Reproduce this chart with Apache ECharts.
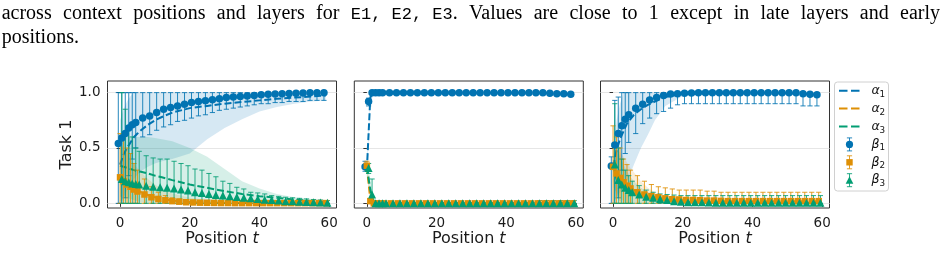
<!DOCTYPE html>
<html>
<head>
<meta charset="utf-8">
<script src="https://cdn.jsdelivr.net/npm/echarts@6/dist/echarts.min.js"></script>
<style>
  html, body { margin: 0; padding: 0; background: #fff; }
  #main { width: 948px; height: 278px; }
</style>
</head>
<body>
<div id="main"></div>
<script>
// context positions
const alphaPos = [0, 1, 2, 3, 4, 5, 6, 8, 10, 12, 15, 20, 25, 30, 35, 40, 45, 50, 55, 59];
const betaPos = [0, 1, 2, 3, 4, 5, 7, 9, 11, 13, 15, 17, 19, 21, 23, 25, 27, 29, 31, 33, 35, 37, 39, 41, 43, 45, 47, 49, 51, 53, 55, 57, 59];
const xTicks = [0, 20, 40, 60];
const yTicks = [0, 0.5, 1.0];

// ---- E1 ----
const e1A1 = [0.35, 0.44, 0.5, 0.55, 0.6, 0.63, 0.66, 0.71, 0.75, 0.78, 0.82, 0.86, 0.88, 0.9, 0.915, 0.93, 0.945, 0.955, 0.965, 0.975];
const e1A1Lo = [0, 0.05, 0.12, 0.18, 0.22, 0.26, 0.29, 0.33, 0.36, 0.38, 0.4, 0.45, 0.58, 0.68, 0.76, 0.83, 0.87, 0.9, 0.92, 0.93];
const e1A1Hi = [0.75, 0.85, 0.92, 0.97, 1, 1, 1, 1, 1, 1, 1, 1, 1, 1, 1, 1, 1, 1, 1, 1];
const e1A2 = [0.24, 0.21, 0.18, 0.16, 0.14, 0.12, 0.1, 0.075, 0.055, 0.04, 0.025, 0.012, 0.006, 0.004, 0.003, 0.002, 0.002, 0.002, 0.002, 0.002];
const e1A2Lo = [0.02, 0.02, 0.01, 0.01, 0, 0, 0, 0, 0, 0, 0, 0, 0, 0, 0, 0, 0, 0, 0, 0];
const e1A2Hi = [0.55, 0.5, 0.45, 0.4, 0.36, 0.32, 0.28, 0.22, 0.17, 0.13, 0.09, 0.05, 0.03, 0.02, 0.015, 0.01, 0.01, 0.01, 0.01, 0.01];
const e1A3 = [0.34, 0.33, 0.32, 0.31, 0.3, 0.29, 0.285, 0.27, 0.25, 0.235, 0.21, 0.17, 0.14, 0.11, 0.085, 0.065, 0.05, 0.035, 0.02, 0.01];
const e1A3Lo = [0.06, 0.06, 0.05, 0.04, 0.03, 0.02, 0.01, 0, 0, 0, 0, 0, 0, 0, 0, 0, 0, 0, 0, 0];
const e1A3Hi = [0.62, 0.6, 0.6, 0.6, 0.6, 0.6, 0.6, 0.6, 0.59, 0.58, 0.56, 0.5, 0.42, 0.31, 0.2, 0.135, 0.085, 0.055, 0.04, 0.03];

const e1B1 = [0.54, 0.59, 0.63, 0.68, 0.71, 0.73, 0.77, 0.79, 0.82, 0.85, 0.865, 0.88, 0.895, 0.91, 0.92, 0.927, 0.935, 0.945, 0.955, 0.96, 0.965, 0.97, 0.975, 0.98, 0.985, 0.988, 0.99, 0.993, 0.995, 0.997, 0.998, 0.998, 0.998];
const e1B1Lo = [0, 0, 0.05, 0.25, 0.4, 0.5, 0.6, 0.62, 0.66, 0.69, 0.71, 0.74, 0.75, 0.77, 0.79, 0.8, 0.82, 0.84, 0.85, 0.86, 0.87, 0.88, 0.89, 0.9, 0.9, 0.91, 0.91, 0.92, 0.92, 0.92, 0.93, 0.93, 0.93];
const e1B1Hi = [1, 1, 1, 1, 1, 1, 1, 1, 1, 1, 1, 1, 1, 1, 1, 1, 1, 1, 1, 1, 1, 1, 1, 1, 1, 1, 1, 1, 1, 1, 1, 1, 1];
const e1B2 = [0.235, 0.2, 0.17, 0.15, 0.125, 0.107, 0.08, 0.055, 0.04, 0.028, 0.02, 0.015, 0.01, 0.008, 0.006, 0.005, 0.004, 0.003, 0.003, 0.002, 0.002, 0.002, 0.002, 0.002, 0.002, 0.002, 0.002, 0.002, 0.002, 0.002, 0.002, 0.002, 0.002];
const e1B2Lo = [0, 0, 0, 0, 0, 0, 0, 0, 0, 0, 0, 0, 0, 0, 0, 0, 0, 0, 0, 0, 0, 0, 0, 0, 0, 0, 0, 0, 0, 0, 0, 0, 0];
const e1B2Hi = [0.63, 0.6, 0.5, 0.45, 0.36, 0.3, 0.22, 0.15, 0.1, 0.07, 0.05, 0.04, 0.03, 0.025, 0.02, 0.02, 0.015, 0.015, 0.015, 0.015, 0.015, 0.015, 0.015, 0.015, 0.015, 0.015, 0.015, 0.015, 0.015, 0.015, 0.015, 0.015, 0.015];
const e1B3 = [0.22, 0.2, 0.19, 0.18, 0.175, 0.17, 0.16, 0.15, 0.145, 0.14, 0.135, 0.125, 0.115, 0.1, 0.094, 0.085, 0.075, 0.07, 0.063, 0.057, 0.05, 0.045, 0.04, 0.033, 0.03, 0.025, 0.02, 0.018, 0.015, 0.012, 0.01, 0.008, 0.006];
const e1B3Lo = [0, 0, 0, 0, 0, 0, 0, 0, 0, 0, 0, 0, 0, 0, 0, 0, 0, 0, 0, 0, 0, 0, 0, 0, 0, 0, 0, 0, 0, 0, 0, 0, 0];
const e1B3Hi = [1.0, 0.85, 0.7, 0.6, 0.5, 0.47, 0.43, 0.41, 0.4, 0.4, 0.38, 0.36, 0.34, 0.31, 0.3, 0.27, 0.24, 0.2, 0.18, 0.145, 0.13, 0.1, 0.094, 0.085, 0.07, 0.063, 0.055, 0.05, 0.045, 0.04, 0.035, 0.03, 0.025];

// ---- E2 ----
const e2A1 = [0.3, 0.96, 1, 1, 1, 1, 1, 1, 1, 1, 1, 1, 1, 1, 1, 1, 1, 1, 0.99, 0.985];
const e2A1Lo = [0.22, 0.9, 0.99, 0.99, 0.99, 0.99, 0.99, 0.99, 0.99, 0.99, 0.99, 0.99, 0.99, 0.99, 0.99, 0.99, 0.99, 0.99, 0.975, 0.97];
const e2A1Hi = [0.38, 1, 1, 1, 1, 1, 1, 1, 1, 1, 1, 1, 1, 1, 1, 1, 1, 1, 1, 1];
const e2A2 = [0.33, 0.03, 0, 0, 0, 0, 0, 0, 0, 0, 0, 0, 0, 0, 0, 0, 0, 0, 0, 0];
const e2A2Lo = [0.27, 0, 0, 0, 0, 0, 0, 0, 0, 0, 0, 0, 0, 0, 0, 0, 0, 0, 0, 0];
const e2A2Hi = [0.4, 0.07, 0.005, 0.005, 0.005, 0.005, 0.005, 0.005, 0.005, 0.005, 0.005, 0.005, 0.005, 0.005, 0.005, 0.005, 0.005, 0.005, 0.005, 0.005];
const e2A3 = [0.33, 0.12, 0.003, 0.003, 0.003, 0.003, 0.003, 0.003, 0.003, 0.003, 0.003, 0.003, 0.003, 0.003, 0.003, 0.003, 0.003, 0.003, 0.003, 0.003];
const e2A3Lo = [0.25, 0.04, 0, 0, 0, 0, 0, 0, 0, 0, 0, 0, 0, 0, 0, 0, 0, 0, 0, 0];
const e2A3Hi = [0.4, 0.22, 0.008, 0.008, 0.008, 0.008, 0.008, 0.008, 0.008, 0.008, 0.008, 0.008, 0.008, 0.008, 0.008, 0.008, 0.008, 0.008, 0.02, 0.025];

const e2B1 = [0.33, 0.92, 1, 1, 1, 1, 1, 1, 1, 1, 1, 1, 1, 1, 1, 1, 1, 1, 1, 1, 1, 1, 1, 1, 1, 1, 1, 1, 0.998, 0.995, 0.99, 0.99, 0.985];
const e2B1Lo = [0.29, 0.88, 0.995, 0.995, 0.995, 0.995, 0.995, 0.995, 0.995, 0.995, 0.995, 0.995, 0.995, 0.995, 0.995, 0.995, 0.995, 0.995, 0.995, 0.995, 0.995, 0.995, 0.995, 0.995, 0.995, 0.995, 0.995, 0.995, 0.99, 0.985, 0.975, 0.975, 0.97];
const e2B1Hi = [0.38, 0.95, 1, 1, 1, 1, 1, 1, 1, 1, 1, 1, 1, 1, 1, 1, 1, 1, 1, 1, 1, 1, 1, 1, 1, 1, 1, 1, 1, 1, 1, 1, 1];
const e2B2 = [0.34, 0.02, 0, 0, 0, 0, 0, 0, 0, 0, 0, 0, 0, 0, 0, 0, 0, 0, 0, 0, 0, 0, 0, 0, 0, 0, 0, 0, 0, 0, 0, 0, 0];
const e2B2Lo = [0.3, 0, 0, 0, 0, 0, 0, 0, 0, 0, 0, 0, 0, 0, 0, 0, 0, 0, 0, 0, 0, 0, 0, 0, 0, 0, 0, 0, 0, 0, 0, 0, 0];
const e2B2Hi = [0.38, 0.04, 0.005, 0.005, 0.005, 0.005, 0.005, 0.005, 0.005, 0.005, 0.005, 0.005, 0.005, 0.005, 0.005, 0.005, 0.005, 0.005, 0.005, 0.005, 0.005, 0.005, 0.005, 0.005, 0.005, 0.005, 0.005, 0.015, 0.015, 0.015, 0.015, 0.015, 0.015];
const e2B3 = [0.32, 0.08, 0.002, 0.002, 0.002, 0.002, 0.002, 0.002, 0.002, 0.002, 0.002, 0.002, 0.002, 0.002, 0.002, 0.002, 0.002, 0.002, 0.002, 0.002, 0.002, 0.002, 0.002, 0.002, 0.002, 0.002, 0.002, 0.002, 0.002, 0.002, 0.002, 0.002, 0.002];
const e2B3Lo = [0.27, 0.03, 0, 0, 0, 0, 0, 0, 0, 0, 0, 0, 0, 0, 0, 0, 0, 0, 0, 0, 0, 0, 0, 0, 0, 0, 0, 0, 0, 0, 0, 0, 0];
const e2B3Hi = [0.36, 0.22, 0.008, 0.008, 0.008, 0.008, 0.008, 0.008, 0.008, 0.008, 0.008, 0.008, 0.008, 0.008, 0.008, 0.008, 0.008, 0.008, 0.008, 0.008, 0.008, 0.008, 0.008, 0.008, 0.008, 0.008, 0.008, 0.025, 0.025, 0.025, 0.025, 0.025, 0.025];

// ---- E3 ----
const e3A1 = [0.33, 0.48, 0.58, 0.65, 0.72, 0.76, 0.8, 0.85, 0.89, 0.92, 0.96, 0.99, 0.995, 0.997, 0.998, 0.998, 0.998, 0.997, 0.99, 0.98];
const e3A1Lo = [0, 0.05, 0.1, 0.15, 0.2, 0.27, 0.35, 0.5, 0.62, 0.75, 0.88, 0.97, 0.985, 0.99, 0.99, 0.99, 0.99, 0.985, 0.975, 0.96];
const e3A1Hi = [0.45, 0.75, 0.9, 1, 1, 1, 1, 1, 1, 1, 1, 1, 1, 1, 1, 1, 1, 1, 1, 1];
const e3A2 = [0.33, 0.28, 0.23, 0.19, 0.16, 0.14, 0.12, 0.09, 0.07, 0.055, 0.04, 0.03, 0.025, 0.02, 0.02, 0.02, 0.02, 0.02, 0.02, 0.02];
const e3A2Lo = [0.15, 0.1, 0.05, 0.02, 0, 0, 0, 0, 0, 0, 0, 0, 0, 0, 0, 0, 0, 0, 0, 0];
const e3A2Hi = [0.5, 0.5, 0.46, 0.42, 0.37, 0.32, 0.28, 0.2, 0.14, 0.1, 0.07, 0.05, 0.04, 0.035, 0.035, 0.035, 0.035, 0.035, 0.035, 0.035];
const e3A3 = [0.35, 0.22, 0.17, 0.14, 0.12, 0.1, 0.09, 0.07, 0.055, 0.045, 0.03, 0.015, 0.01, 0.008, 0.006, 0.005, 0.005, 0.005, 0.005, 0.005];
const e3A3Lo = [0.2, 0.05, 0.02, 0, 0, 0, 0, 0, 0, 0, 0, 0, 0, 0, 0, 0, 0, 0, 0, 0];
const e3A3Hi = [0.5, 0.5, 0.42, 0.35, 0.29, 0.24, 0.2, 0.14, 0.1, 0.08, 0.05, 0.03, 0.02, 0.02, 0.02, 0.02, 0.02, 0.02, 0.02, 0.02];

const e3B1 = [0.337, 0.527, 0.63, 0.7, 0.76, 0.8, 0.86, 0.895, 0.933, 0.955, 0.975, 0.987, 0.99, 0.995, 0.997, 0.998, 0.998, 0.998, 0.998, 0.998, 0.998, 0.998, 0.998, 0.998, 0.998, 0.998, 0.998, 0.998, 0.998, 0.998, 0.99, 0.985, 0.98];
const e3B1Lo = [0, 0, 0.05, 0.3, 0.45, 0.55, 0.63, 0.72, 0.77, 0.81, 0.83, 0.86, 0.89, 0.9, 0.9, 0.9, 0.9, 0.9, 0.9, 0.9, 0.9, 0.9, 0.9, 0.9, 0.9, 0.9, 0.9, 0.9, 0.9, 0.9, 0.88, 0.88, 0.88];
const e3B1Hi = [0.42, 0.93, 0.96, 1, 1, 1, 1, 1, 1, 1, 1, 1, 1, 1, 1, 1, 1, 1, 1, 1, 1, 1, 1, 1, 1, 1, 1, 1, 1, 1, 1, 1, 1];
const e3B2 = [0.33, 0.27, 0.23, 0.19, 0.16, 0.135, 0.1, 0.08, 0.065, 0.055, 0.045, 0.037, 0.035, 0.03, 0.03, 0.028, 0.025, 0.025, 0.022, 0.02, 0.02, 0.02, 0.02, 0.02, 0.02, 0.02, 0.02, 0.02, 0.02, 0.02, 0.02, 0.02, 0.02];
const e3B2Lo = [0, 0, 0, 0, 0, 0, 0, 0, 0, 0, 0, 0, 0, 0, 0, 0, 0, 0, 0, 0, 0, 0, 0, 0, 0, 0, 0, 0, 0, 0, 0, 0, 0];
const e3B2Hi = [0.7, 0.6, 0.5, 0.4, 0.35, 0.3, 0.25, 0.2, 0.17, 0.15, 0.14, 0.13, 0.12, 0.12, 0.12, 0.12, 0.11, 0.11, 0.1, 0.1, 0.1, 0.1, 0.1, 0.1, 0.1, 0.1, 0.1, 0.1, 0.1, 0.1, 0.1, 0.1, 0.1];
const e3B3 = [0.35, 0.21, 0.17, 0.14, 0.12, 0.1, 0.08, 0.06, 0.05, 0.04, 0.03, 0.02, 0.015, 0.01, 0.01, 0.01, 0.008, 0.005, 0.005, 0.005, 0.005, 0.005, 0.005, 0.005, 0.005, 0.005, 0.005, 0.005, 0.005, 0.005, 0.005, 0.005, 0.005];
const e3B3Lo = [0, 0, 0, 0, 0, 0, 0, 0, 0, 0, 0, 0, 0, 0, 0, 0, 0, 0, 0, 0, 0, 0, 0, 0, 0, 0, 0, 0, 0, 0, 0, 0, 0];
const e3B3Hi = [0.9, 0.5, 0.4, 0.3, 0.25, 0.2, 0.16, 0.12, 0.1, 0.085, 0.08, 0.075, 0.07, 0.07, 0.07, 0.07, 0.07, 0.07, 0.07, 0.07, 0.07, 0.07, 0.07, 0.07, 0.07, 0.07, 0.07, 0.07, 0.07, 0.07, 0.07, 0.07, 0.07];

// caption above the figure (`...` = typewriter)
const captionLine1 = ['across', 'context', 'positions', 'and', 'layers', 'for', '`E1, E2, E3`.', 'Values', 'are', 'close', 'to', '1', 'except', 'in', 'late', 'layers', 'and', 'early'];
const captionLine2 = ['positions.'];

const legendNames = ['α', 'α', 'α', 'β', 'β', 'β'];
const legendSubs = ['1', '2', '3', '1', '2', '3'];

// ---------------------------------------------------------------
const COLORS = ['#0173b2', '#de8f05', '#029e73'];
const SYMBOLS = ['circle', 'rect', 'triangle'];
const SYMBOL_SIZES = [7.5, 6.5, 8];
const DODGE = [-0.5, 0, 0.5];
const FONT = 'DejaVu Sans';

const panels = [
  { alpha: [[e1A1, e1A1Lo, e1A1Hi], [e1A2, e1A2Lo, e1A2Hi], [e1A3, e1A3Lo, e1A3Hi]],
    beta: [[e1B1, e1B1Lo, e1B1Hi], [e1B2, e1B2Lo, e1B2Hi], [e1B3, e1B3Lo, e1B3Hi]] },
  { alpha: [[e2A1, e2A1Lo, e2A1Hi], [e2A2, e2A2Lo, e2A2Hi], [e2A3, e2A3Lo, e2A3Hi]],
    beta: [[e2B1, e2B1Lo, e2B1Hi], [e2B2, e2B2Lo, e2B2Hi], [e2B3, e2B3Lo, e2B3Hi]] },
  { alpha: [[e3A1, e3A1Lo, e3A1Hi], [e3A2, e3A2Lo, e3A2Hi], [e3A3, e3A3Lo, e3A3Hi]],
    beta: [[e3B1, e3B1Lo, e3B1Hi], [e3B2, e3B2Lo, e3B2Hi], [e3B3, e3B3Lo, e3B3Hi]] }
];
const gridLefts = [107.5, 354.3, 600.5];

function hexA(hex, a) {
  const n = parseInt(hex.slice(1), 16);
  return `rgba(${n >> 16},${(n >> 8) & 255},${n & 255},${a})`;
}

const grids = [], xAxes = [], yAxes = [], series = [];

panels.forEach((p, gi) => {
  grids.push({ left: gridLefts[gi], top: 81, width: 229, height: 127, show: true,
    borderColor: '#333', borderWidth: 1, backgroundColor: 'transparent' });
  xAxes.push({
    type: 'value', gridIndex: gi, min: -3.6, max: 62.1,
    axisLine: { show: false },
    axisTick: { show: true, length: 3.5, lineStyle: { color: '#333' }, customValues: xTicks },
    axisLabel: { customValues: xTicks, fontSize: 13.5, fontFamily: FONT, color: '#1a1a1a', margin: 8 },
    splitLine: { show: false },
    name: 'Position {it|t}', nameLocation: 'middle', nameGap: 23,
    nameTextStyle: { fontSize: 16, fontFamily: FONT, color: '#1a1a1a',
      rich: { it: { fontSize: 16, fontFamily: FONT, fontStyle: 'italic', color: '#1a1a1a' } } }
  });
  yAxes.push({
    type: 'value', gridIndex: gi, min: -0.042, max: 1.105,
    axisLine: { show: false },
    axisTick: { show: true, length: 3.5, lineStyle: { color: '#333' }, customValues: yTicks },
    axisLabel: { show: gi === 0, customValues: yTicks, formatter: v => v.toFixed(1),
      fontSize: 13.5, fontFamily: FONT, color: '#1a1a1a', margin: 7 },
    splitLine: { show: true, lineStyle: { color: '#e6e6e6', width: 1.2 } },
    name: gi === 0 ? 'Task 1' : '', nameLocation: 'middle', nameGap: 32,
    nameTextStyle: { fontSize: 16, fontFamily: FONT, color: '#1a1a1a' }
  });

  // shaded bands for alpha
  p.alpha.forEach(([mean, lo, hi], k) => {
    series.push({
      type: 'custom', xAxisIndex: gi, yAxisIndex: gi, silent: true, z: 1, clip: true,
      data: [[0, 0]],
      renderItem: (params, api) => {
        const top = alphaPos.map((x, i) => api.coord([x, hi[i]]));
        const bot = alphaPos.map((x, i) => api.coord([x, lo[i]])).reverse();
        return { type: 'polygon', shape: { points: top.concat(bot) },
          style: { fill: hexA(COLORS[k], 0.16) } };
      }
    });
  });
  // dashed alpha lines
  p.alpha.forEach(([mean], k) => {
    series.push({
      type: 'line', xAxisIndex: gi, yAxisIndex: gi, silent: true, z: 2,
      data: alphaPos.map((x, i) => [x, mean[i]]),
      showSymbol: false, symbol: 'none',
      lineStyle: { color: COLORS[k], width: 2, type: [7, 3] }
    });
  });
  // beta error bars + markers
  p.beta.forEach(([mean, lo, hi], k) => {
    const pts = betaPos.map((x, i) => [x + DODGE[k], mean[i], lo[i], hi[i]]);
    series.push({
      type: 'custom', xAxisIndex: gi, yAxisIndex: gi, silent: true, z: 3,
      data: pts, encode: { x: 0, y: 1 },
      renderItem: (params, api) => {
        const x = api.value(0);
        const a = api.coord([x, api.value(2)]);
        const b = api.coord([x, api.value(3)]);
        const st = { stroke: hexA(COLORS[k], 0.85), lineWidth: 1 };
        const cw = 2.6;
        return { type: 'group', children: [
          { type: 'line', shape: { x1: a[0], y1: a[1], x2: b[0], y2: b[1] }, style: st },
          { type: 'line', shape: { x1: a[0] - cw, y1: a[1], x2: a[0] + cw, y2: a[1] }, style: st },
          { type: 'line', shape: { x1: b[0] - cw, y1: b[1], x2: b[0] + cw, y2: b[1] }, style: st }
        ] };
      }
    });
    series.push({
      type: 'scatter', xAxisIndex: gi, yAxisIndex: gi, silent: true, z: 4,
      data: pts.map(d => [d[0], d[1]]),
      symbol: SYMBOLS[k], symbolSize: SYMBOL_SIZES[k],
      itemStyle: { color: COLORS[k], opacity: 1 }
    });
  });
});

// ---- caption text (justified first line) ----
const SERIF = '20px "Liberation Serif"';
const MONO = '17px "Liberation Mono"';
const mctx = document.createElement('canvas').getContext('2d');
function segs(word) {
  return word.split('`').map((t, i) => ({ t, font: i % 2 ? MONO : SERIF })).filter(s => s.t);
}
function width(s) { mctx.font = s.font; return mctx.measureText(s.t).width; }
const graphics = [];
function placeLine(words, yMid, x0, x1) {
  const ws = words.map(w => segs(w));
  const wl = ws.map(sg => sg.reduce((acc, s) => acc + width(s), 0));
  const total = wl.reduce((a, b) => a + b, 0);
  const gap = x1 ? (x1 - x0 - total) / (words.length - 1) : 5;
  let x = x0;
  ws.forEach((sg, i) => {
    let sx = x;
    sg.forEach(s => {
      graphics.push({ type: 'text', x: sx, y: yMid, silent: true,
        style: { text: s.t, font: s.font, fill: '#000', verticalAlign: 'middle' } });
      sx += width(s);
    });
    x += wl[i] + gap;
  });
}
placeLine(captionLine1, 14, 1.7, 940);
placeLine(captionLine2, 37.5, 1.7, null);

// ---- legend ----
const LX = 834.5, LY = 82, LW = 54, LH = 109;
graphics.push({ type: 'rect', silent: true, shape: { x: LX, y: LY, width: LW, height: LH, r: 3 },
  style: { fill: '#fff', stroke: '#d0d0d0', lineWidth: 1 } });
legendNames.forEach((nm, r) => {
  const y = 90.7 + r * 17.9;
  const k = r % 3;
  if (r < 3) {
    graphics.push({ type: 'line', silent: true, shape: { x1: 839, y1: y, x2: 860, y2: y },
      style: { stroke: COLORS[k], lineWidth: 2, lineDash: [8.5, 3.5] } });
  } else {
    const st = { stroke: hexA(COLORS[k], 0.85), lineWidth: 1 };
    const cx = 849.5;
    graphics.push({ type: 'line', silent: true, shape: { x1: cx, y1: y - 6.5, x2: cx, y2: y + 6.5 }, style: st });
    graphics.push({ type: 'line', silent: true, shape: { x1: cx - 2.6, y1: y - 6.5, x2: cx + 2.6, y2: y - 6.5 }, style: st });
    graphics.push({ type: 'line', silent: true, shape: { x1: cx - 2.6, y1: y + 6.5, x2: cx + 2.6, y2: y + 6.5 }, style: st });
    if (k === 0) graphics.push({ type: 'circle', silent: true, shape: { cx, cy: y, r: 3.6 }, style: { fill: COLORS[k] } });
    if (k === 1) graphics.push({ type: 'rect', silent: true, shape: { x: cx - 3.2, y: y - 3.2, width: 6.4, height: 6.4 }, style: { fill: COLORS[k] } });
    if (k === 2) graphics.push({ type: 'polygon', silent: true, shape: { points: [[cx, y - 4], [cx - 3.8, y + 3.5], [cx + 3.8, y + 3.5]] }, style: { fill: COLORS[k] } });
  }
  graphics.push({ type: 'text', silent: true, x: 871.5, y: y,
    style: { text: nm, font: 'italic 12.5px "DejaVu Sans"', fill: '#111', verticalAlign: 'middle' } });
  graphics.push({ type: 'text', silent: true, x: 879.6, y: y + 3.8,
    style: { text: legendSubs[r], font: '8.8px "DejaVu Sans"', fill: '#111', verticalAlign: 'middle' } });
});

const chart = echarts.init(document.getElementById('main'), null, { renderer: 'canvas' });
chart.setOption({
  animation: false,
  backgroundColor: '#fff',
  grid: grids,
  xAxis: xAxes,
  yAxis: yAxes,
  series: series,
  graphic: { elements: graphics }
});
</script>
</body>
</html>
